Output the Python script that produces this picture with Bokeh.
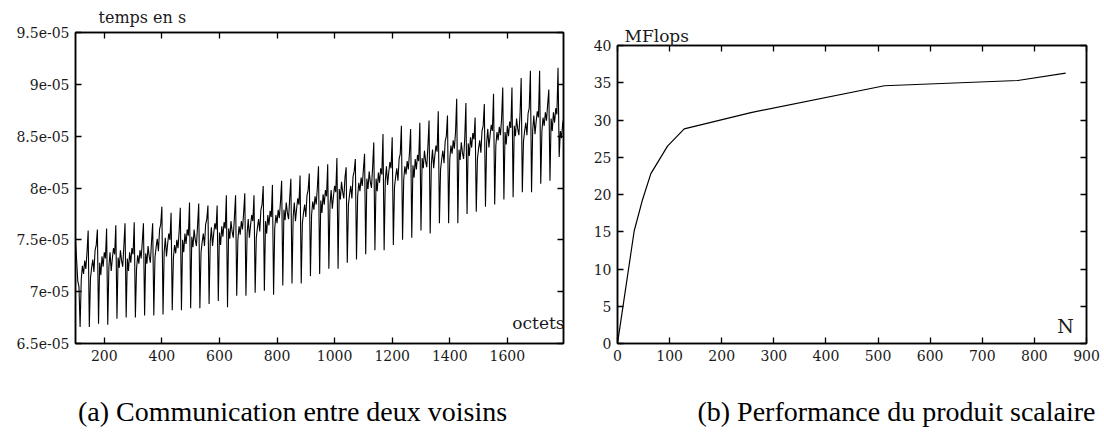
from bokeh.plotting import figure
from bokeh.layouts import row, column
from bokeh.models import Range1d, FixedTicker, LinearAxis, CustomJSTickFormatter, Label, Spacer
from bokeh.core.properties import value
from bokeh.embed import file_html
from bokeh.resources import INLINE

# ---------------- data (a): communication time (units of 1e-05 s) ----------------
octets = list(range(100, 1797, 4))
head_e5 = [7.50, 7.30, 7.10, 7.05]
low_e5 = [6.66, 6.66, 6.69, 6.68, 6.74, 6.75, 6.75, 6.77, 6.77, 6.78,
          6.82, 6.82, 6.84, 6.84, 6.88, 6.91, 6.85, 6.96, 6.96, 6.99,
          7.01, 6.97, 7.06, 7.08, 7.08, 7.15, 7.17, 7.22, 7.22, 7.28,
          7.31, 7.36, 7.40, 7.40, 7.45, 7.50, 7.52, 7.59, 7.56, 7.66,
          7.66, 7.66, 7.75, 7.77, 7.82, 7.84, 7.89, 7.91, 7.96, 7.96,
          8.04, 8.07]
a_e5 = [7.12, 7.13, 7.28, 7.24, 7.33, 7.32, 7.22, 7.37, 7.33, 7.38,
        7.32, 7.50, 7.53, 7.38, 7.48, 7.57, 7.61, 7.50, 7.56, 7.52,
        7.68, 7.61, 7.79, 7.72, 7.66, 7.74, 7.88, 7.84, 7.99, 7.84,
        7.92, 8.09, 8.09, 8.07, 8.01, 8.08, 8.22, 8.29, 8.23, 8.18,
        8.28, 8.37, 8.43, 8.28, 8.43, 8.41, 8.54, 8.60, 8.45, 8.56,
        8.55, 8.67]
b_e5 = [7.25, 7.23, 7.16, 7.38, 7.23, 7.20, 7.35, 7.27, 7.43, 7.52,
        7.45, 7.38, 7.43, 7.48, 7.62, 7.45, 7.51, 7.63, 7.70, 7.62,
        7.56, 7.74, 7.69, 7.86, 7.76, 7.87, 7.76, 7.98, 7.89, 7.94,
        8.05, 7.99, 7.97, 8.21, 8.11, 8.21, 8.10, 8.19, 8.37, 8.28,
        8.41, 8.27, 8.31, 8.38, 8.57, 8.54, 8.42, 8.50, 8.55, 8.70,
        8.68, 8.55]
c_e5 = [7.17, 7.31, 7.34, 7.20, 7.40, 7.38, 7.27, 7.44, 7.51, 7.34,
        7.37, 7.56, 7.60, 7.56, 7.44, 7.63, 7.68, 7.55, 7.52, 7.70,
        7.74, 7.66, 7.86, 7.68, 7.84, 7.79, 7.94, 7.80, 8.06, 8.02,
        7.97, 8.16, 8.15, 8.03, 8.19, 8.13, 8.28, 8.36, 8.19, 8.36,
        8.33, 8.44, 8.49, 8.46, 8.39, 8.46, 8.60, 8.67, 8.63, 8.52,
        8.60, 8.73]
d_e5 = [7.30, 7.19, 7.24, 7.32, 7.30, 7.28, 7.40, 7.34, 7.39, 7.46,
        7.50, 7.46, 7.50, 7.44, 7.56, 7.53, 7.58, 7.68, 7.64, 7.58,
        7.64, 7.79, 7.76, 7.80, 7.72, 7.92, 7.84, 7.92, 7.96, 7.90,
        8.10, 8.06, 8.05, 8.15, 8.07, 8.26, 8.18, 8.26, 8.31, 8.24,
        8.46, 8.34, 8.39, 8.34, 8.51, 8.59, 8.50, 8.57, 8.51, 8.64,
        8.73, 8.63]
e_e5 = [7.22, 7.40, 7.38, 7.42, 7.24, 7.42, 7.32, 7.28, 7.60, 7.56,
        7.42, 7.60, 7.44, 7.65, 7.66, 7.67, 7.52, 7.60, 7.74, 7.79,
        7.78, 7.71, 7.70, 7.90, 7.93, 7.84, 7.98, 8.02, 7.90, 8.11,
        8.02, 8.00, 8.19, 8.25, 8.28, 8.18, 8.32, 8.20, 8.41, 8.45,
        8.38, 8.28, 8.53, 8.55, 8.61, 8.51, 8.64, 8.51, 8.72, 8.74,
        8.65, 8.77]
f_e5 = [7.38, 7.45, 7.32, 7.36, 7.44, 7.36, 7.48, 7.48, 7.65, 7.50,
        7.58, 7.54, 7.64, 7.70, 7.60, 7.61, 7.72, 7.76, 7.68, 7.84,
        7.72, 7.87, 7.90, 7.84, 7.98, 8.00, 7.92, 7.96, 8.10, 8.16,
        8.18, 8.20, 8.13, 8.19, 8.33, 8.34, 8.26, 8.40, 8.35, 8.50,
        8.54, 8.48, 8.47, 8.60, 8.55, 8.67, 8.58, 8.71, 8.77, 8.68,
        8.81, 8.71]
peak_e5 = [7.59, 7.60, 7.61, 7.64, 7.66, 7.67, 7.66, 7.66, 7.82, 7.76,
           7.81, 7.86, 7.85, 7.83, 7.83, 7.93, 7.93, 7.95, 7.93, 8.02,
           8.03, 8.07, 8.09, 8.12, 8.14, 8.21, 8.23, 8.29, 8.20, 8.28,
           8.33, 8.44, 8.52, 8.49, 8.60, 8.57, 8.63, 8.65, 8.74, 8.70,
           8.86, 8.82, 8.68, 8.81, 8.91, 8.97, 8.97, 9.06, 9.13, 9.13,
           8.95, 9.16]
tail_e5 = [8.30, 8.55, 8.48, 8.62, 8.68]
x_ticks_a = [200, 400, 600, 800, 1000, 1200, 1400, 1600]
y_ticks_a = [6.5e-05, 7e-05, 7.5e-05, 8e-05, 8.5e-05, 9e-05, 9.5e-05]

# ---------------- data (b): dot product performance ----------------
N_vals = [0, 32, 48, 64, 96, 128, 256, 512, 768, 860]
mflops = [0, 15.1, 19.3, 22.8, 26.5, 28.8, 31.0, 34.6, 35.3, 36.3]
x_ticks_b = [0, 100, 200, 300, 400, 500, 600, 700, 800, 900]
y_ticks_b = [0, 5, 10, 15, 20, 25, 30, 35, 40]

caption_a = "(a) Communication entre deux voisins"
caption_b = "(b) Performance du produit scalaire"

# build series (a)
series_e5 = list(head_e5)
for cyc in zip(low_e5, a_e5, b_e5, c_e5, d_e5, e_e5, f_e5, peak_e5):
    series_e5 += list(cyc)
series_e5 += tail_e5
temps = [v * 1e-05 for v in series_e5]

TICK_FONT = "DejaVu Serif"
CAP_FONT = "Liberation Serif"
TXT = "#1a1a1a"


def style(p, xt, yt):
    bx = p.below[0]
    ly = p.left[0]
    p.outline_line_color = "black"
    p.outline_line_width = 1.5
    p.xgrid.visible = False
    p.ygrid.visible = False
    p.background_fill_color = "white"
    p.border_fill_color = "white"
    bx.ticker = FixedTicker(ticks=xt)
    ly.ticker = FixedTicker(ticks=yt)
    top = LinearAxis(ticker=FixedTicker(ticks=xt))
    right = LinearAxis(ticker=FixedTicker(ticks=yt))
    p.add_layout(top, "above")
    p.add_layout(right, "right")
    for ax in (bx, ly, top, right):
        ax.axis_line_color = "black"
        ax.axis_line_width = 1.5
        ax.major_tick_in = 6
        ax.major_tick_out = 0
        ax.major_tick_line_color = "black"
        ax.major_tick_line_width = 1.3
        ax.minor_tick_line_color = None
        ax.major_label_text_font = TICK_FONT
    for ax in (bx, ly):
        ax.major_label_standoff = 6
        ax.major_label_text_color = TXT
        ax.major_label_text_font_size = "14px"
    for ax in (top, right):
        ax.major_label_standoff = 0
        ax.major_label_text_color = None
        ax.major_label_text_font_size = "0px"
    return bx, ly


def set_title(p, text, offset, standoff, size):
    p.title.text = text
    p.title.align = "left"
    p.title.offset = offset
    p.title.standoff = standoff
    p.title.text_font = TICK_FONT
    p.title.text_font_size = size
    p.title.text_font_style = "normal"
    p.title.text_color = TXT


# ---------------- figure (a) ----------------
p1 = figure(width=590, height=380, x_range=Range1d(100, 1795),
            y_range=Range1d(6.5e-05, 9.5e-05), output_backend="svg",
            toolbar_location=None, min_border_left=75, min_border_right=27,
            min_border_top=32, min_border_bottom=37)
bx1, ly1 = style(p1, x_ticks_a, y_ticks_a)
ly1.formatter = CustomJSTickFormatter(code="""
const m = Math.round(tick * 1e6) / 10;
const s = (Math.abs(m - Math.round(m)) < 1e-9) ? Math.round(m).toString() : m.toFixed(1);
return s + "e-05";
""")
p1.line(octets, temps, line_color="black", line_width=1.1)
set_title(p1, "temps en s", 23, 11, "16px")
p1.add_layout(Label(x=1708, y=6.693e-05, text="octets", text_font=TICK_FONT,
                    text_font_size="17px", text_baseline="middle", text_align="center",
                    text_color=TXT))

# ---------------- figure (b) ----------------
p2 = figure(width=510, height=367, x_range=Range1d(0, 900), y_range=Range1d(0, 40),
            output_backend="svg", toolbar_location=None, min_border_left=25,
            min_border_right=14, min_border_top=32, min_border_bottom=37)
style(p2, x_ticks_b, y_ticks_b)
p2.line(N_vals, mflops, line_color="black", line_width=1.2)
set_title(p2, "MFlops", 7, 0, "17px")
p2.add_layout(Label(x=860, y=2.4, text="N", text_font=TICK_FONT,
                    text_font_size="19px", text_baseline="middle", text_align="center",
                    text_color=TXT))


# ---------------- captions ----------------
def caption(width, cx, text):
    c = figure(width=width, height=56, x_range=Range1d(0, width), y_range=Range1d(0, 56),
               output_backend="svg", toolbar_location=None, min_border=0,
               x_axis_type=None, y_axis_type=None)
    c.outline_line_color = None
    c.background_fill_color = "white"
    c.border_fill_color = "white"
    c.text(x=[cx], y=[25], text=[text], text_font=value(CAP_FONT), text_font_size="28px",
           text_align="center", text_baseline="middle", text_color="black")
    return c


c1 = caption(590, 292, caption_a)
c2 = caption(510, 306, caption_b)

layout = column(row(p1, column(Spacer(height=13, width=510), p2)), row(c1, c2))
open("out.html", "w").write(file_html(layout, INLINE))
